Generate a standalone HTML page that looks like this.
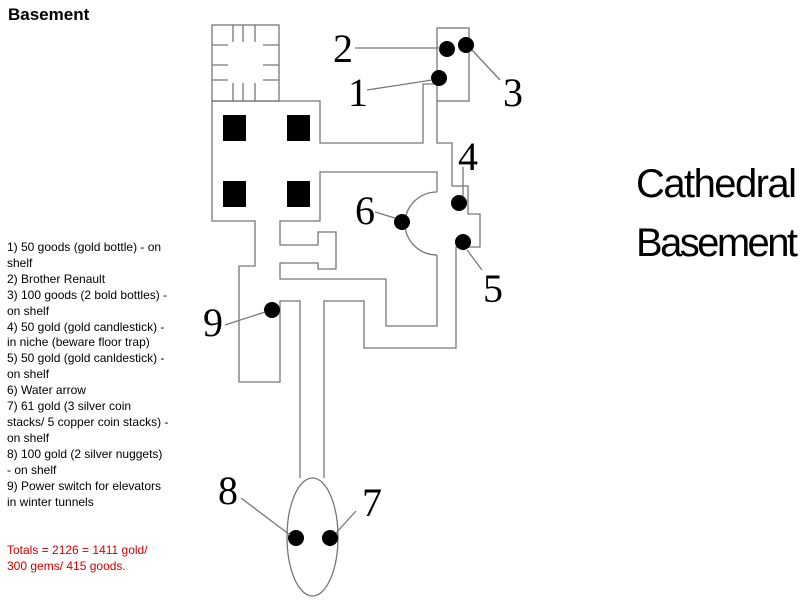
<!DOCTYPE html>
<html><head><meta charset="utf-8"><style>
body{margin:0;width:800px;height:600px;background:#fff;position:relative;overflow:hidden;font-family:"Liberation Sans",Arial,sans-serif}
#t{position:absolute;left:8px;top:5px;font-weight:bold;font-size:17px}
#l{position:absolute;left:7px;top:240px;font-size:12px;line-height:15.9px;color:#000}
#r{position:absolute;left:7px;top:543px;font-size:12px;line-height:15.9px;color:#c00}
svg{position:absolute;left:0;top:0}
</style></head><body>
<div id="t">Basement</div>
<div id="l">1) 50 goods (gold bottle) - on<br>shelf<br>2) Brother Renault<br>3) 100 goods (2 bold bottles) -<br>on shelf<br>4) 50 gold (gold candlestick) -<br>in niche (beware floor trap)<br>5) 50 gold (gold canldestick) -<br>on shelf<br>6) Water arrow<br>7) 61 gold (3 silver coin<br>stacks/ 5 copper coin stacks) -<br>on shelf<br>8) 100 gold (2 silver nuggets)<br>- on shelf<br>9) Power switch for elevators<br>in winter tunnels</div>
<div id="r">Totals = 2126 = 1411 gold/<br>300 gems/ 415 goods.</div>
<svg width="800" height="600" fill="none" stroke="#777" stroke-width="1.3">
<rect x="212" y="25" width="67" height="76"/>
<path d="M233 25V42M243 25V42M255 25V42M233 83V101M243 83V101M255 83V101M212 45H228M212 65H228M212 80H228M263 45H279M263 65H279M263 80H279"/>
<rect x="437" y="28" width="32" height="73"/>
<path d="M212 101H320V143H423V84H437M437 101V143H452V186H468V214H480V247H456V348H364V301H324V478M212 101V221H255V266H239V382H280V301H300V478"/>
<path d="M437 192V172H320V221H280V245H318V232H336V269H318V263H280V279H386V326H437V255"/>
<path d="M437 192A32 31.5 0 0 0 437 255"/>
<ellipse cx="312.5" cy="537" rx="25.5" ry="59"/>
<g fill="#000" stroke="none">
<rect x="223" y="115" width="23" height="26"/><rect x="287" y="115" width="23" height="26"/>
<rect x="223" y="181" width="23" height="26"/><rect x="287" y="181" width="23" height="26"/>
<circle cx="439" cy="78" r="8"/><circle cx="447" cy="49" r="8"/><circle cx="466" cy="45" r="8"/>
<circle cx="459" cy="203" r="8"/><circle cx="463" cy="242" r="8"/><circle cx="402" cy="222" r="8"/>
<circle cx="272" cy="310" r="8"/><circle cx="296" cy="538" r="8"/><circle cx="330" cy="538" r="8"/>
</g>
<path d="M355 48H440M367 90L432 80M472 50L500 80M463 196V167M467 250L482 270M375 212L395 218M225 325L265 312M241 498L290 535M356 511L336 533"/>
<g fill="#000" stroke="none" font-family="Liberation Serif,serif" font-size="40">
<text x="333" y="62">2</text><text x="348" y="106">1</text><text x="503" y="106">3</text>
<text x="458" y="170">4</text><text x="483" y="302">5</text><text x="355" y="224">6</text>
<text x="203" y="336">9</text><text x="218" y="504">8</text><text x="362" y="516">7</text>
<text x="636" y="197" font-family="Liberation Sans,sans-serif" font-size="40" font-weight="normal" textLength="161">Cathedral</text>
<text x="636" y="256" font-family="Liberation Sans,sans-serif" font-size="40" textLength="162">Basement</text>
</g>
</svg>
</body></html>
